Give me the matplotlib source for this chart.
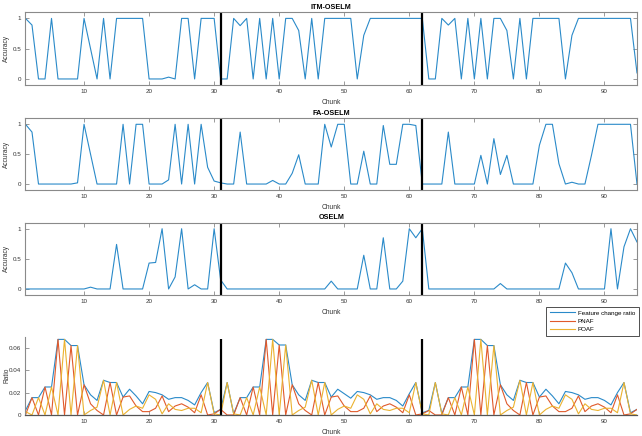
import matplotlib.pyplot as plt
import numpy as np

plt.rcParams['font.family'] = ['Liberation Sans', 'DejaVu Sans']

chunks = np.arange(1, 96)
boundaries = [31, 62]

itm_oselm = [
    1, 0.89, 0, 0, 1, 0, 0, 0, 0, 1,
    0.5, 0, 1, 0, 1, 1, 1, 1, 1, 0,
    0, 0, 0.03, 0, 1, 1, 0, 1, 1, 1,
    0, 0, 1, 0.88, 1, 0, 1, 0, 1, 0,
    1, 1, 0.8, 0, 1, 0, 1, 1, 1, 1,
    1, 0, 0.72, 1, 1, 1, 1, 1, 1, 1,
    1, 1, 0, 0, 1, 0.89, 1, 0, 1, 0,
    1, 0, 1, 1, 0.8, 0, 1, 0, 1, 1,
    1, 1, 1, 0, 0.72, 1, 1, 1, 1, 1,
    1, 1, 1, 1, 0.1,
]

fa_oselm = [
    1, 0.87, 0, 0, 0, 0, 0, 0, 0.02, 1,
    0.5, 0, 0, 0, 0, 1, 0, 1, 1, 0,
    0, 0, 0.07, 1, 0, 1, 0, 1, 0.28, 0.05,
    0.02, 0, 0, 0.87, 0, 0, 0, 0, 0.06, 0,
    0, 0.18, 0.49, 0, 0, 0, 1, 0.62, 1, 1,
    0, 0, 0.55, 0, 0, 0.98, 0.33, 0.33, 1, 1,
    0.98, 0, 0, 0, 0, 0.87, 0, 0, 0, 0,
    0.48, 0, 0.76, 0.16, 0.48, 0, 0, 0, 0, 0.65,
    1, 1, 0.34, 0, 0.03, 0, 0, 0.48, 1, 1,
    1, 1, 1, 1, 0,
]

oselm = [
    0, 0, 0, 0, 0, 0, 0, 0, 0, 0,
    0.03, 0, 0, 0, 0.74, 0, 0, 0, 0, 0.43,
    0.44, 1, 0, 0.2, 1, 0, 0.07, 0, 0, 1,
    0.15, 0, 0, 0, 0, 0, 0, 0, 0, 0,
    0, 0, 0, 0, 0, 0, 0, 0.13, 0, 0,
    0, 0, 0.56, 0, 0, 0.85, 0, 0, 0.13, 1,
    0.85, 1, 0, 0, 0, 0, 0, 0, 0, 0,
    0, 0, 0, 0.09, 0, 0, 0, 0, 0, 0,
    0, 0, 0, 0.43, 0.27, 0, 0, 0, 0, 0,
    1, 0, 0.7, 1, 0.78,
]

feature_change_ratio = [
    0.004, 0.0155, 0.0155, 0.025, 0.025, 0.0675, 0.0675, 0.062, 0.062, 0.027,
    0.018, 0.013, 0.031, 0.029, 0.029, 0.016, 0.023, 0.017, 0.010, 0.021,
    0.020, 0.018, 0.014, 0.0155, 0.0155, 0.013, 0.009, 0.020, 0.029, 0.002,
    0.005, 0.029, 0.001, 0.0155, 0.0155, 0.025, 0.025, 0.0675, 0.0675, 0.0625,
    0.0625, 0.027, 0.018, 0.013, 0.031, 0.029, 0.029, 0.016, 0.023, 0.019,
    0.015, 0.021, 0.020, 0.018, 0.014, 0.0155, 0.0155, 0.013, 0.008, 0.019,
    0.029, 0.002, 0.004, 0.029, 0.001, 0.0155, 0.0155, 0.025, 0.025, 0.0675,
    0.0675, 0.062, 0.062, 0.027, 0.018, 0.013, 0.031, 0.029, 0.029, 0.016,
    0.023, 0.017, 0.010, 0.021, 0.020, 0.018, 0.014, 0.0155, 0.0155, 0.013,
    0.009, 0.020, 0.029, 0.002, 0.005,
]

pnaf = [
    0.0, 0.0155, 0.0, 0.025, 0.0, 0.0675, 0.0, 0.062, 0.0, 0.027,
    0.010, 0.004, 0.0, 0.029, 0.0, 0.016, 0.017, 0.008, 0.003, 0.003,
    0.006, 0.017, 0.003, 0.008, 0.010, 0.007, 0.002, 0.018, 0.0, 0.001,
    0.005, 0.0, 0.0, 0.0155, 0.0, 0.025, 0.0, 0.0675, 0.0, 0.0625,
    0.0, 0.027, 0.010, 0.004, 0.0, 0.029, 0.0, 0.016, 0.017, 0.008,
    0.003, 0.003, 0.006, 0.017, 0.003, 0.008, 0.010, 0.007, 0.002, 0.018,
    0.0, 0.001, 0.004, 0.0, 0.0, 0.0155, 0.0, 0.025, 0.0, 0.0675,
    0.0, 0.062, 0.0, 0.027, 0.010, 0.004, 0.0, 0.029, 0.0, 0.016,
    0.017, 0.008, 0.003, 0.003, 0.006, 0.017, 0.003, 0.008, 0.010, 0.007,
    0.002, 0.018, 0.0, 0.001, 0.005,
]

poaf = [
    0.003, 0.0, 0.0155, 0.0, 0.025, 0.0, 0.0675, 0.0, 0.062, 0.0,
    0.004, 0.007, 0.031, 0.0, 0.029, 0.0, 0.005, 0.008, 0.006, 0.018,
    0.014, 0.001, 0.010, 0.005, 0.004, 0.006, 0.006, 0.002, 0.029, 0.001,
    0.0, 0.029, 0.001, 0.0, 0.0155, 0.0, 0.025, 0.0, 0.0675, 0.0,
    0.0625, 0.0, 0.004, 0.007, 0.031, 0.0, 0.029, 0.0, 0.005, 0.008,
    0.006, 0.018, 0.014, 0.001, 0.010, 0.005, 0.004, 0.006, 0.006, 0.002,
    0.029, 0.001, 0.0, 0.029, 0.001, 0.0, 0.0155, 0.0, 0.025, 0.0,
    0.0675, 0.0, 0.062, 0.0, 0.004, 0.007, 0.031, 0.0, 0.029, 0.0,
    0.005, 0.008, 0.006, 0.018, 0.014, 0.001, 0.010, 0.005, 0.004, 0.006,
    0.006, 0.002, 0.029, 0.001, 0.0,
]

BLUE = "#2a8ac9"
RED = "#e05a2b"
YELLOW = "#ebb230"
AXIS_GREY = "#8a8a8a"
TEXT_GREY = "#333333"

fig = plt.figure(figsize=(6.42, 4.36), dpi=100)
left, width = 0.0397, 0.9525
ax1 = fig.add_axes([left, 0.805, width, 0.1667])
ax2 = fig.add_axes([left, 0.5642, width, 0.1644])
ax3 = fig.add_axes([left, 0.3234, width, 0.1658])
ax4 = fig.add_axes([left, 0.0482, width, 0.1798])


def accuracy_panel(ax, values, title):
    ax.plot(chunks, values, color=BLUE, lw=0.8)
    for b in boundaries:
        ax.axvline(b, color="black", lw=1.6)
    ax.set_xlim(1, 95)
    ax.set_ylim(-0.1, 1.1)
    ax.set_xticks(range(10, 91, 10))
    ax.set_yticks([0, 0.5, 1])
    ax.set_yticklabels(["0", "0.5", "1"])
    ax.tick_params(direction="in", top=True, right=True, length=3, width=0.6,
                   labelsize=4.5, color=AXIS_GREY, labelcolor=TEXT_GREY, pad=3)
    for spine in ax.spines.values():
        spine.set_edgecolor(AXIS_GREY)
        spine.set_linewidth(0.8)
    ax.set_title(title, fontsize=5.2, fontweight="bold", pad=2.5)
    ax.set_xlabel("Chunk", fontsize=4.8, color=TEXT_GREY)
    ax.xaxis.set_label_coords(0.5, -0.19)
    ax.set_ylabel("Accuracy", fontsize=4.8, color=TEXT_GREY)
    ax.yaxis.set_label_coords(-0.025, 0.5)


accuracy_panel(ax1, itm_oselm, "ITM-OSELM")
accuracy_panel(ax2, fa_oselm, "FA-OSELM")
accuracy_panel(ax3, oselm, "OSELM")

# panneau du bas : ratios
ax4.plot(chunks, feature_change_ratio, color=BLUE, lw=0.8, label="Feature change ratio")
ax4.plot(chunks, pnaf, color=RED, lw=0.8, label="PNAF")
ax4.plot(chunks, poaf, color=YELLOW, lw=0.8, label="POAF")
ax4.vlines(boundaries, 0, max(feature_change_ratio), color="black", lw=1.6)
ax4.set_xlim(1, 95)
ax4.set_ylim(0, 0.07)
ax4.set_xticks(range(10, 91, 10))
ax4.set_yticks([0, 0.02, 0.04, 0.06])
ax4.set_yticklabels(["0", "0.02", "0.04", "0.06"])
ax4.tick_params(direction="in", length=3, width=0.6, labelsize=4.5,
                color=AXIS_GREY, labelcolor=TEXT_GREY, pad=3)
ax4.spines["top"].set_visible(False)
ax4.spines["right"].set_visible(False)
ax4.spines["left"].set_edgecolor(AXIS_GREY)
ax4.spines["left"].set_linewidth(0.8)
ax4.spines["bottom"].set_edgecolor("#555555")
ax4.spines["bottom"].set_linewidth(0.9)
ax4.set_xlabel("Chunk", fontsize=4.8, color=TEXT_GREY)
ax4.xaxis.set_label_coords(0.5, -0.18)
ax4.set_ylabel("Ratio", fontsize=4.8, color=TEXT_GREY)
ax4.yaxis.set_label_coords(-0.025, 0.5)

leg = ax4.legend(loc="upper right", bbox_to_anchor=(639 / 642, 1 - 306.5 / 436),
                 bbox_transform=fig.transFigure, fontsize=4.5, frameon=True,
                 fancybox=False, edgecolor="#333333", framealpha=1,
                 handlelength=4.0, handletextpad=0.5, labelspacing=0.45,
                 borderpad=0.6, borderaxespad=0)
leg.get_frame().set_linewidth(0.6)

fig.savefig("out.png", dpi=100)
